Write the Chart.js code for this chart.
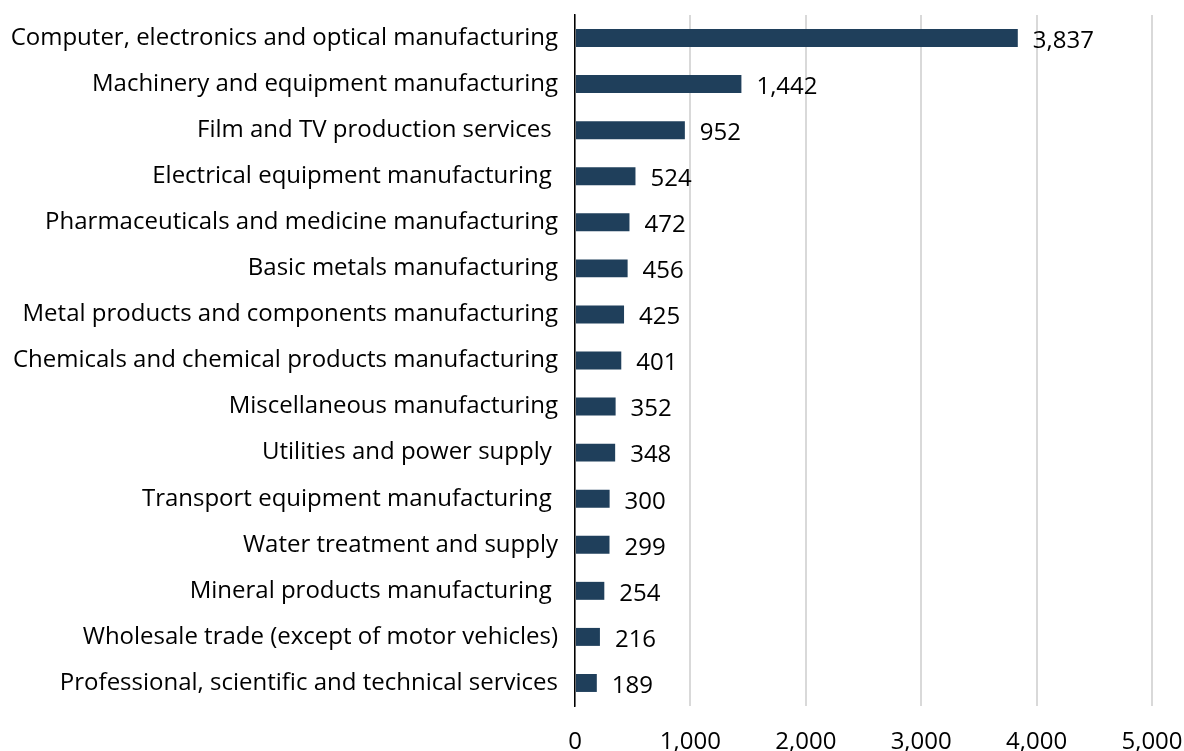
<!DOCTYPE html>
<html>
<head>
<meta charset="utf-8">
<script src="https://cdn.jsdelivr.net/npm/chart.js@4"></script>
<style>
  html, body { margin: 0; padding: 0; background: #fff; }
  canvas { display: block; }
</style>
</head>
<body>
<canvas id="industryChart" width="1184" height="751"></canvas>
<script>
const industries = [
  'Computer, electronics and optical manufacturing',
  'Machinery and equipment manufacturing',
  'Film and TV production services ',
  'Electrical equipment manufacturing ',
  'Pharmaceuticals and medicine manufacturing',
  'Basic metals manufacturing',
  'Metal products and components manufacturing',
  'Chemicals and chemical products manufacturing',
  'Miscellaneous manufacturing',
  'Utilities and power supply ',
  'Transport equipment manufacturing ',
  'Water treatment and supply',
  'Mineral products manufacturing ',
  'Wholesale trade (except of motor vehicles)',
  'Professional, scientific and technical services'
];
const counts = [3837, 1442, 952, 524, 472, 456, 425, 401, 352, 348, 300, 299, 254, 216, 189];
const xTicks = [0, 1000, 2000, 3000, 4000, 5000];

const FONT = "'Open Sans', 'Liberation Sans', sans-serif";
const FONT_SIZE = 24;

// value labels just past the end of each bar
const barValueLabels = {
  id: 'barValueLabels',
  afterDatasetsDraw(chart) {
    const ctx = chart.ctx;
    const meta = chart.getDatasetMeta(0);
    ctx.save();
    ctx.font = FONT_SIZE + 'px ' + FONT;
    ctx.fillStyle = '#000';
    ctx.textAlign = 'left';
    ctx.textBaseline = 'middle';
    meta.data.forEach((bar, i) => {
      ctx.fillText(counts[i].toLocaleString('en-US'), bar.x + 15, bar.y + 3);
    });
    ctx.restore();
  }
};

const ctx = document.getElementById('industryChart').getContext('2d');
new Chart(ctx, {
  type: 'bar',
  data: {
    labels: industries,
    datasets: [{
      data: counts,
      backgroundColor: '#1f3f5b',
      borderWidth: 0,
      barPercentage: 0.78,
      categoryPercentage: 0.5
    }]
  },
  options: {
    indexAxis: 'y',
    responsive: false,
    animation: false,
    layout: {
      padding: { top: 15, right: 32, left: 0, bottom: 0 }
    },
    plugins: {
      legend: { display: false },
      tooltip: { enabled: false }
    },
    scales: {
      x: {
        min: 0,
        max: 5000,
        afterBuildTicks(scale) {
          scale.ticks = xTicks.map(v => ({ value: v }));
        },
        afterFit(scale) {
          scale.height = 45;
          scale.paddingLeft = 0;
          scale.paddingRight = 0;
        },
        grid: {
          color: '#d9d9d9',
          lineWidth: 2,
          drawTicks: false
        },
        border: { display: false },
        ticks: {
          padding: 22,
          maxRotation: 0,
          color: '#000',
          font: { family: FONT, size: FONT_SIZE },
          callback: v => v.toLocaleString('en-US')
        }
      },
      y: {
        afterFit(scale) {
          scale.width = 575;
          scale.paddingTop = 0;
          scale.paddingBottom = 0;
        },
        grid: { display: false, drawTicks: false },
        border: { display: true, color: '#000', width: 1.5 },
        ticks: {
          padding: 17,
          color: '#000',
          font: { family: FONT, size: FONT_SIZE }
        }
      }
    }
  },
  plugins: [barValueLabels]
});
</script>
</body>
</html>
